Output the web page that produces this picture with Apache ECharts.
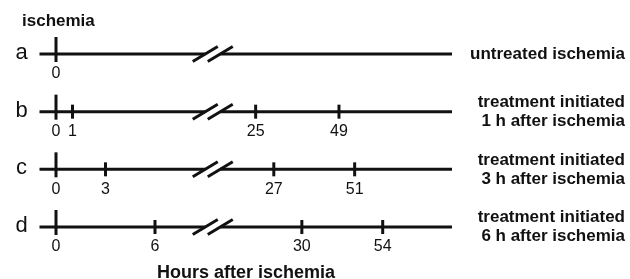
<!DOCTYPE html>
<html>
<head>
<meta charset="utf-8">
<script src="https://cdn.jsdelivr.net/npm/echarts@6/dist/echarts.min.js"></script>
<style>
  html, body { margin: 0; background: #fff; }
  #main { width: 630px; height: 279px; }
</style>
</head>
<body>
<div id="main"></div>
<script>
// rows of the timeline
const rowLetters = ['a', 'b', 'c', 'd']
const rowLabels = [
  'untreated ischemia',
  'treatment initiated\n1 h after ischemia',
  'treatment initiated\n3 h after ischemia',
  'treatment initiated\n6 h after ischemia',
]
// tick labels (hours) and where they sit on the schematic axis (compressed after the break)
const tickHours = [
  [0],
  [0, 1, 25, 49],
  [0, 3, 27, 51],
  [0, 6, 30, 54],
]
const tickPos = [
  [0],
  [0, 1, 12.1, 17.15],
  [0, 3, 13.2, 18.1],
  [0, 6, 14.9, 19.8],
]
const breakPos = 9.5
const axisStart = -1
const axisEnd = 24

const INK = '#111'
const FONT = 'Liberation Sans'

const chart = echarts.init(document.getElementById('main'), null, { renderer: 'canvas' })

const lineData = rowLetters.map((r, i) => [axisStart, axisEnd, i])
const breakData = rowLetters.map((r, i) => [breakPos, i])
const tickData = []
tickHours.forEach((hours, i) => {
  hours.forEach((h, k) => tickData.push([tickPos[i][k], i, h]))
})

const option = {
  animation: false,
  title: [
    {
      text: 'ischemia',
      left: 22,
      top: 13,
      padding: 0,
      textStyle: { fontFamily: FONT, fontSize: 17, fontWeight: 'bold', color: INK },
    },
    {
      text: 'Hours after ischemia',
      left: 157,
      top: 264,
      padding: 0,
      textStyle: { fontFamily: FONT, fontSize: 18, fontWeight: 'bold', color: INK },
    },
  ],
  grid: { left: 39.5, right: 178, top: 54, bottom: 52 },
  xAxis: { type: 'value', min: axisStart, max: axisEnd, show: false },
  yAxis: { type: 'value', min: 0, max: 3, inverse: true, show: false },
  series: [
    {
      // the horizontal time lines + row letter + description
      type: 'custom',
      z: 1,
      data: lineData,
      encode: { x: [0, 1], y: 2 },
      renderItem(params, api) {
        const row = api.value(2)
        const p0 = api.coord([api.value(0), row])
        const p1 = api.coord([api.value(1), row])
        return {
          type: 'group',
          children: [
            {
              type: 'line',
              shape: { x1: p0[0], y1: p0[1], x2: p1[0], y2: p1[1] },
              style: { stroke: INK, lineWidth: 3 },
            },
            {
              type: 'text',
              x: p0[0] - 18,
              y: p0[1] - 1,
              style: {
                text: rowLetters[row],
                font: '22px ' + FONT,
                fill: INK,
                align: 'center',
                verticalAlign: 'middle',
              },
            },
            {
              type: 'text',
              x: p1[0] + 173,
              y: p1[1],
              style: {
                text: rowLabels[row],
                font: 'bold 17px ' + FONT,
                lineHeight: 19,
                fill: INK,
                align: 'right',
                verticalAlign: 'middle',
              },
            },
          ],
        }
      },
    },
    {
      // axis break "//"
      type: 'custom',
      z: 2,
      data: breakData,
      encode: { x: 0, y: 1 },
      renderItem(params, api) {
        const c = api.coord([api.value(0), api.value(1)])
        const x = c[0], y = c[1]
        return {
          type: 'group',
          children: [
            {
              type: 'rect',
              shape: { x: x - 7.5, y: y - 3, width: 15, height: 6 },
              style: { fill: '#fff' },
            },
            {
              type: 'line',
              shape: { x1: x - 20, y1: y + 7.5, x2: x + 5, y2: y - 7.5 },
              style: { stroke: INK, lineWidth: 3 },
            },
            {
              type: 'line',
              shape: { x1: x - 5, y1: y + 7.5, x2: x + 20, y2: y - 7.5 },
              style: { stroke: INK, lineWidth: 3 },
            },
          ],
        }
      },
    },
    {
      // ticks and hour labels
      type: 'custom',
      z: 3,
      data: tickData,
      encode: { x: 0, y: 1 },
      renderItem(params, api) {
        const c = api.coord([api.value(0), api.value(1)])
        const h = api.value(2)
        const up = h === 0 ? 17 : 7
        const down = h === 0 ? 8 : 7
        return {
          type: 'group',
          children: [
            {
              type: 'line',
              shape: { x1: c[0], y1: c[1] - up, x2: c[0], y2: c[1] + down },
              style: { stroke: INK, lineWidth: 3 },
            },
            {
              type: 'text',
              x: c[0],
              y: c[1] + 20,
              style: {
                text: String(h),
                font: '16px ' + FONT,
                fill: INK,
                align: 'center',
                verticalAlign: 'middle',
              },
            },
          ],
        }
      },
    },
  ],
}

chart.setOption(option)
</script>
</body>
</html>
